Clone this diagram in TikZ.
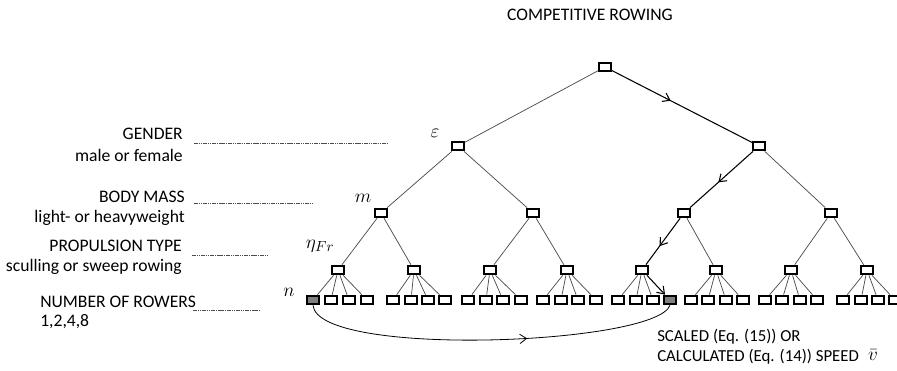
\documentclass[tikz,border=0pt]{standalone}
\usepackage{fontspec}
\setmainfont{Carlito}
\usetikzlibrary{arrows.meta,decorations.markings}

\begin{document}
\begin{tikzpicture}[x=0.75pt,y=-0.75pt,
  font=\fontsize{13.2}{15}\selectfont,
  inner/.style={draw=black,line width=1.5pt,minimum width=8.5pt,minimum height=6.5pt,inner sep=0pt,fill=white},
  leaf/.style={inner,minimum width=9.5pt},
  shaded/.style={leaf,fill=black!50},
  branch/.style={draw=black!70,line width=0.55pt},
  chosen/.style={draw=black,line width=0.8pt},
  tip/.style={-{Straight Barb[length=5pt,width=7pt]}},
  midtip/.style={postaction={decorate,decoration={markings,
      mark=at position #1 with {\arrow{Straight Barb[length=5pt,width=7pt]}}}}},
  guide/.style={draw=black!70,line width=0.5pt,dash pattern=on 1.2pt off 0.5pt},
  txt/.style={inner sep=0pt},
  result/.style={txt,anchor=west,font=\fontsize{12.6}{15}\selectfont},
  math/.style={inner sep=0pt,font=\fontsize{15.5}{17}\selectfont}]
\useasboundingbox (0,0) rectangle (897,371);

% title
\node[txt] (title) at (590,15) {COMPETITIVE ROWING};

% tree nodes
\node[inner] (r) at (605,67) {};
\node[inner] (a) at (458,146) {};
\node[inner] (b) at (759,146) {};
\foreach \i/\x in {1/381,2/533,3/684,4/831}
  \node[inner] (c\i) at (\x,213) {};
\foreach \i/\x in {1/338,2/414,3/490,4/567,5/642,6/716,7/791,8/867}
  \node[inner] (d\i) at (\x,270) {};

% leaves (four per propulsion node)
\foreach \g/\xa/\xb/\xc/\xd in {1/313/331/349/367,2/393/411/428/445,3/468/486/503/521,
    4/543/561/578/596,5/618/636/653/670,6/691/708/726/743,7/765/782/800/817,8/843/861/878/895}{
  \node[leaf] (e\g-1) at (\xa,300) {};
  \node[leaf] (e\g-2) at (\xb,300) {};
  \node[leaf] (e\g-3) at (\xc,300) {};
  \node[leaf] (e\g-4) at (\xd,300) {};
}
\node[shaded] at (e1-1) {};
\node[shaded] at (e5-4) {};

% branches
\draw[branch] (r) -- (a);
\draw[branch] (a) -- (c1);
\draw[branch] (a) -- (c2);
\draw[branch] (b) -- (c4);
\draw[branch] (c1) -- (d1);
\draw[branch] (c1) -- (d2);
\draw[branch] (c2) -- (d3);
\draw[branch] (c2) -- (d4);
\draw[branch] (c3) -- (d6);
\draw[branch] (c4) -- (d7);
\draw[branch] (c4) -- (d8);
\foreach \g in {1,2,3,4,6,7,8}
  \foreach \k in {1,2,3,4}
    \draw[branch] (d\g) -- (e\g-\k);
\foreach \k in {1,2,3}
  \draw[branch] (d5) -- (e5-\k);

% followed path
\draw[chosen,midtip=0.42] (r) -- (b);
\draw[chosen,midtip=0.55] (b) -- (c3);
\draw[chosen,midtip=0.6] (c3) -- (d5);
\draw[chosen,tip] (d5) -- (e5-4);

% link between the two shaded leaves
\draw[chosen,line width=0.6pt,midtip=0.6]
  (e1-1.south) .. controls (318,358) and (655,345) .. (e5-4.south);

% level symbols
\node[math] (eps) at (435,133) {$\varepsilon$};
\node[math] (msym) at (363,198) {$m$};
\node[math] (eta) at (320,246) {$\eta_{Fr}$};
\node[math] (nsym) at (289,292) {$n$};

% level captions
\node[txt,anchor=east] (gen) at (183,134) {GENDER};
\node[txt,anchor=east] (gen2) at (183,155) {male or female};
\coordinate (g1) at (194,143); \coordinate (g2) at (387,143);
\draw[guide] (g1) -- (g2);

\node[txt,anchor=east] (bm) at (185,197) {BODY MASS};
\node[txt,anchor=east] (bm2) at (185,218) {light- or heavyweight};
\coordinate (b1) at (194,203); \coordinate (b2) at (312,203);
\draw[guide] (b1) -- (b2);

\node[txt,anchor=east] (pt) at (182,246) {PROPULSION TYPE};
\node[txt,anchor=east] (pt2) at (182,267) {sculling or sweep rowing};
\coordinate (p1) at (192,255); \coordinate (p2) at (268,255);
\draw[guide] (p1) -- (p2);

\node[txt,anchor=west] (nr) at (40,302) {NUMBER OF ROWERS};
\node[txt,anchor=west] (nr2) at (40,322) {1,2,4,8};
\coordinate (n1) at (193,310); \coordinate (n2) at (260,310);
\draw[guide] (n1) -- (n2);

% result caption
\node[result] (res1) at (657,337) {SCALED (Eq. (15)) OR};
\node[result] (res2) at (657,357) {CALCULATED (Eq. (14)) SPEED};
\node[math] (vbar) at (873,355) {$\bar{v}$};
\end{tikzpicture}
\end{document}
